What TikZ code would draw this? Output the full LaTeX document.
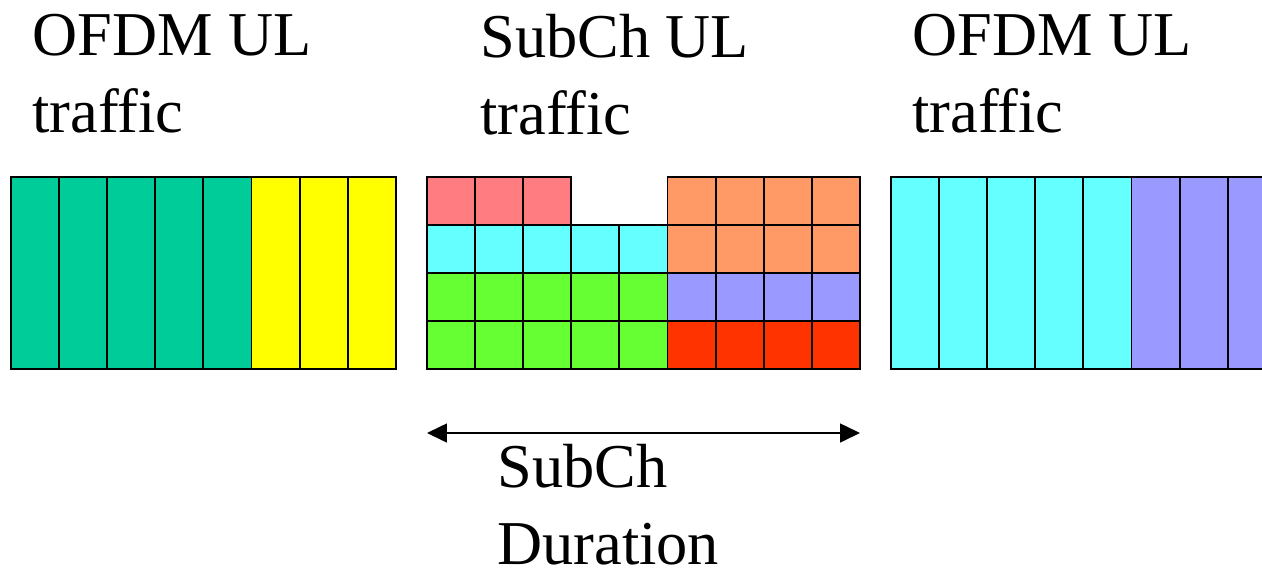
\documentclass[tikz,border=0pt]{standalone}
\usepackage{fontspec}
\setmainfont{Liberation Serif}
\usetikzlibrary{arrows.meta}
\definecolor{ofdmgreen}{HTML}{00CC99}
\definecolor{ofdmyellow}{HTML}{FFFF00}
\definecolor{subpink}{HTML}{FF7C80}
\definecolor{subcyan}{HTML}{66FFFF}
\definecolor{subgreen}{HTML}{66FF33}
\definecolor{suborange}{HTML}{FF9966}
\definecolor{sublilac}{HTML}{9999FF}
\definecolor{subred}{HTML}{FF3300}
\tikzset{
  slot/.style={draw=black,line width=1.1pt},
  title/.style={inner sep=0pt,anchor=north west,align=left,
    font=\fontsize{35.5}{43.8}\selectfont}
}
\begin{document}
\begin{tikzpicture}[x=0.02cm,y=-0.02cm]
    \useasboundingbox (0,0) rectangle (1262,569);
    \clip (0,0) rectangle (1262,569);

    \node[title] (ofdmA) at (32,14) {OFDM UL\\traffic};
    \node[title] (subch) at (480,14) {SubCh UL\\traffic};
    \node[title] (ofdmB) at (912,14) {OFDM UL\\traffic};

    % OFDM frame before
    \foreach \i in {0,...,4}
      \filldraw[slot,fill=ofdmgreen] (11+48.1*\i,177) rectangle ++(48.1,192);
    \foreach \i in {5,6,7}
      \filldraw[slot,fill=ofdmyellow] (11+48.1*\i,177) rectangle ++(48.1,192);

    % subchannelized zone
    \foreach \i in {0,1,2}
      \filldraw[slot,fill=subpink] (427+48.1*\i,177) rectangle ++(48.1,48);
    \foreach \i in {0,...,4} {
      \filldraw[slot,fill=subcyan] (427+48.1*\i,225) rectangle ++(48.1,48);
      \filldraw[slot,fill=subgreen] (427+48.1*\i,273) rectangle ++(48.1,48);
      \filldraw[slot,fill=subgreen] (427+48.1*\i,321) rectangle ++(48.1,48);
    }
    \foreach \i in {5,...,8} {
      \filldraw[slot,fill=suborange] (427+48.1*\i,177) rectangle ++(48.1,48);
      \filldraw[slot,fill=suborange] (427+48.1*\i,225) rectangle ++(48.1,48);
      \filldraw[slot,fill=sublilac] (427+48.1*\i,273) rectangle ++(48.1,48);
      \filldraw[slot,fill=subred] (427+48.1*\i,321) rectangle ++(48.1,48);
    }

    % OFDM frame after
    \foreach \i in {0,...,4}
      \filldraw[slot,fill=subcyan] (891+48.1*\i,177) rectangle ++(48.1,192);
    \foreach \i in {5,6,7}
      \filldraw[slot,fill=sublilac] (891+48.1*\i,177) rectangle ++(48.1,192);

    \coordinate (durL) at (427,433);
    \coordinate (durR) at (860,433);
    \draw[line width=0.9pt,{Triangle[length=0.4cm,width=0.38cm]}-{Triangle[length=0.4cm,width=0.38cm]}]
      (durL) -- (durR);
    \node[title] (dur) at (497,444) {SubCh\\Duration};
\end{tikzpicture}
\end{document}
